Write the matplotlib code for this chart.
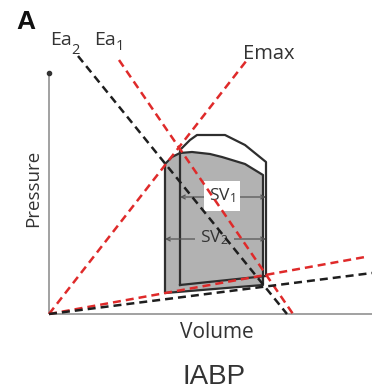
import matplotlib
matplotlib.use("Agg")
import matplotlib.pyplot as plt
from matplotlib.patches import Polygon

plt.rcParams["font.family"] = ["Open Sans", "DejaVu Sans"]
plt.rcParams["mathtext.fontset"] = "custom"
plt.rcParams["mathtext.rm"] = "Open Sans"
plt.rcParams["mathtext.it"] = "Open Sans:italic"

# Pressure-volume schematic (arbitrary units)
# End-systolic elastance line
emax_v = [0, 99]
emax_p = [0, 127]
# Arterial elastance lines: baseline (1) and with IABP (2)
ea1_v = [35, 122]
ea1_p = [127, 0]
ea2_v = [14.5, 119]
ea2_p = [129, 0]
# End-diastolic pressure-volume relations
edpvr1_v = [0, 158]
edpvr1_p = [0, 28.5]
edpvr2_v = [0, 161.5]
edpvr2_p = [0, 20.5]
# PV loop with IABP (filled)
loop2_v = [58, 58, 61.5, 65.5, 71.5, 80.5, 86.5, 98, 107, 107]
loop2_p = [10.5, 75, 78.5, 80.5, 81, 80, 78.5, 75, 69.5, 14.5]
# Baseline PV loop (outline)
loop1_v = [65.5, 65.5, 70.5, 74, 88, 98, 108.5, 108.5, 65.5]
loop1_p = [14.5, 82, 87, 89.5, 89.5, 84.5, 76, 19, 14.5]
# Stroke volume arrows
sv1 = {"p": 58.5, "v": (65.5, 108.5), "label": "SV$_1$"}
sv2 = {"p": 37.5, "v": (58, 108.5), "label": "SV$_2$"}
axis_len_v = 161.5
axis_len_p = 120.5

RED = "#df2a2a"
BLK = "#1e1e1e"
GRAY = "#b2b2b2"
EDGE = "#2e2e2e"
TXT = "#333333"

W, H = 372, 390
fig = plt.figure(figsize=(W / 100, H / 100), dpi=100)
ax = fig.add_axes([0, 0, 1, 1])
ax.set_xlim(-24.5, 161.5)
ax.set_ylim(-38, 157)
ax.axis("off")

# axes
ax.plot([0, 0], [0, axis_len_p], color="#9a9a9a", lw=1.3, zorder=2, solid_capstyle="butt")
ax.plot([0, axis_len_v], [0, 0], color="#9a9a9a", lw=1.3, zorder=2, solid_capstyle="butt")
ax.plot([0], [axis_len_p], "o", ms=3, color="#333333", zorder=2)

# loops
ax.add_patch(Polygon(list(zip(loop2_v, loop2_p)), closed=True, facecolor=GRAY,
                     edgecolor=EDGE, lw=1.6, zorder=3, joinstyle="round"))
ax.plot(loop1_v, loop1_p, color=EDGE, lw=1.6, zorder=4, solid_joinstyle="round")

# stroke volume arrows
for sv, box in ((sv1, "white"), (sv2, GRAY)):
    ax.annotate("", xy=(sv["v"][0], sv["p"]), xytext=(sv["v"][1], sv["p"]),
                arrowprops=dict(arrowstyle="<->", color="#555555", lw=0.9,
                                mutation_scale=7, shrinkA=0, shrinkB=0), zorder=5)
    ax.text((sv["v"][0] + sv["v"][1]) / 2 - 0.5, sv["p"] + 0.5, sv["label"],
            ha="center", va="center", fontsize=12.5, color=TXT, zorder=6,
            bbox=dict(boxstyle="square,pad=0.3", facecolor=box, edgecolor="none"))

dash = (0, (3.2, 2.0))
lw = 1.8
ax.plot(emax_v, emax_p, color=RED, lw=lw, ls=dash, zorder=7, clip_on=False)
ax.plot(ea1_v, ea1_p, color=RED, lw=lw, ls=dash, zorder=7, clip_on=False)
ax.plot(ea2_v, ea2_p, color=BLK, lw=lw, ls=dash, zorder=7, clip_on=False)
ax.plot(edpvr1_v, edpvr1_p, color=RED, lw=lw, ls=dash, zorder=7, clip_on=False)
ax.plot(edpvr2_v, edpvr2_p, color=BLK, lw=lw, ls=dash, zorder=7, clip_on=False)


def px(x, y):
    return x / W, 1 - y / H


renderer = fig.canvas.get_renderer()


def sub_label(x, y, main, sub, size, drop):
    t = fig.text(*px(x, y), main, fontsize=size, ha="left", va="baseline", color=TXT)
    ext = t.get_window_extent(renderer=renderer)
    fig.text(ext.x1 / W, (H - y - drop) / H, sub, fontsize=size * 0.75,
             ha="left", va="baseline", color=TXT)


fig.text(*px(16, 22), "A", fontsize=19, fontweight="bold", family="Liberation Sans",
         ha="left", va="center", color="#111111")
sub_label(50, 45, "Ea", "2", 14, 9)
sub_label(94, 45, "Ea", "1", 14, 5)
fig.text(*px(243, 59), "Emax", fontsize=14.5, ha="left", va="baseline", color=TXT)
fig.text(*px(33, 188), "Pressure", fontsize=13.5, rotation=90, ha="center", va="center",
         color=TXT)
fig.text(*px(217, 333), "Volume", fontsize=15, ha="center", va="center", color=TXT)
fig.text(*px(214, 377), "IABP", fontsize=20, family="Liberation Sans", ha="center",
         va="center", color=TXT)

fig.savefig("out.png", dpi=100)
